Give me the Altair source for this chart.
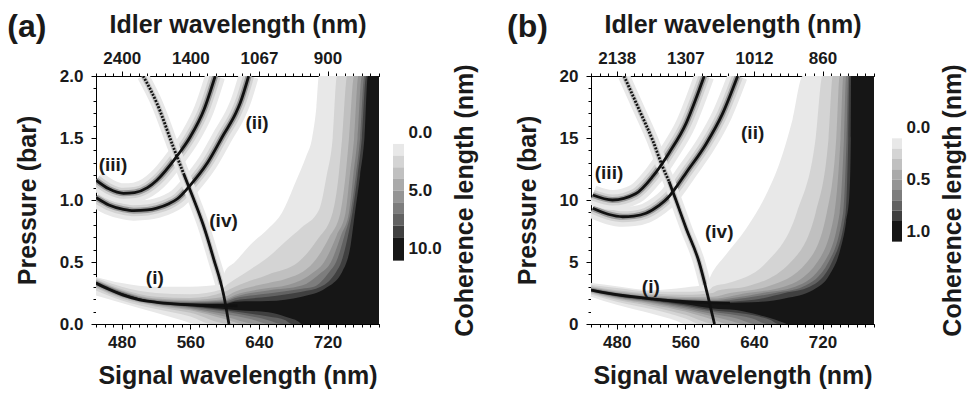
import altair as alt
import pandas as pd

FONT = "Liberation Sans"
INK = "#1a1a1a"
LEVEL_COLORS = ["#e8e8e8", "#d4d4d4", "#c0c0c0", "#aaaaaa", "#959595",
                "#7d7d7d", "#626262", "#404040", "#161616"]

XMIN, XMAX = 450, 780
SIGNAL_TICKS = [480, 560, 640, 720]
IDLER_A = ["2400", "1400", "1067", "900"]
IDLER_B = ["2138", "1307", "1012", "860"]
LABEL_TEXT = ["(i)", "(ii)", "(iii)", "(iv)"]

# ---------------- panel (a) ----------------
A_I_X = [450, 465, 481, 501, 521, 560, 600, 615]
A_I_Y = [0.33, 0.28, 0.235, 0.195, 0.175, 0.155, 0.148, 0.146]
A_II_X = [450, 465, 482, 494, 510, 521, 535, 545, 560, 580, 599, 613, 618, 628]
A_II_Y = [1.02, 0.96, 0.925, 0.914, 0.92, 0.935, 0.97, 1.01, 1.12, 1.30, 1.53, 1.70, 1.78, 2.0]
A_III_X = [450, 465, 482, 495, 510, 521, 544, 560, 576, 589]
A_III_Y = [1.16, 1.09, 1.054, 1.06, 1.10, 1.16, 1.35, 1.51, 1.73, 2.0]
A_IVD_X = [505, 521, 540, 552]
A_IVD_Y = [2.0, 1.78, 1.43, 1.215]
A_IV_X = [552, 562, 575, 587, 599, 605]
A_IV_Y = [1.215, 1.04, 0.80, 0.53, 0.23, 0.0]
A_LAB_X = [518.6, 637.8, 469.8, 598.7]
A_LAB_Y = [0.37, 1.62, 1.28, 0.83]

A_HI_X = [
    [450, 480, 520, 560, 597, 600, 612, 630, 651, 667, 683, 695, 702, 707, 710, 780],
    [450, 480, 520, 560, 597, 600, 612, 630, 651, 670, 690, 710, 719, 726, 731, 780],
    [450, 480, 520, 560, 600, 612, 651, 686, 708, 726, 733, 737, 743, 780],
    [450, 480, 520, 560, 600, 612, 651, 670, 704, 722, 735, 741, 745, 751, 780],
    [450, 480, 520, 560, 600, 612, 651, 671, 700, 716, 731, 741, 746, 751, 756, 780],
    [450, 480, 520, 560, 600, 612, 651, 690, 710, 724, 736, 745, 750, 755, 760, 780],
    [450, 480, 520, 560, 600, 612, 651, 690, 704, 722, 730, 740, 747, 753, 758, 763, 780],
    [450, 480, 520, 560, 600, 612, 651, 690, 712, 730, 736, 745, 749, 755, 760, 765, 780],
    [450, 480, 520, 560, 600, 612, 651, 690, 718, 737, 747, 752, 758, 763, 767, 780],
]
A_HI_Y = [
    [0.38, 0.33, 0.30, 0.30, 0.32, 0.42, 0.50, 0.64, 0.77, 0.90, 1.15, 1.35, 1.50, 1.75, 2.0, 2.0],
    [0.37, 0.30, 0.25, 0.24, 0.28, 0.30, 0.36, 0.44, 0.54, 0.66, 0.78, 0.92, 1.20, 1.50, 2.0, 2.0],
    [0.36, 0.28, 0.22, 0.21, 0.26, 0.30, 0.40, 0.50, 0.68, 0.90, 1.20, 1.50, 2.0, 2.0],
    [0.355, 0.27, 0.205, 0.195, 0.22, 0.26, 0.33, 0.36, 0.50, 0.70, 0.90, 1.20, 1.50, 2.0, 2.0],
    [0.35, 0.265, 0.198, 0.185, 0.20, 0.234, 0.29, 0.31, 0.40, 0.50, 0.72, 0.90, 1.20, 1.50, 2.0, 2.0],
    [0.345, 0.26, 0.19, 0.178, 0.19, 0.22, 0.27, 0.31, 0.40, 0.50, 0.72, 0.90, 1.20, 1.50, 2.0, 2.0],
    [0.34, 0.255, 0.185, 0.172, 0.18, 0.207, 0.245, 0.285, 0.30, 0.42, 0.50, 0.72, 0.90, 1.20, 1.50, 2.0, 2.0],
    [0.337, 0.25, 0.182, 0.167, 0.17, 0.19, 0.22, 0.26, 0.30, 0.42, 0.50, 0.75, 0.90, 1.20, 1.50, 2.0, 2.0],
    [0.335, 0.247, 0.18, 0.163, 0.16, 0.18, 0.185, 0.22, 0.29, 0.42, 0.64, 0.90, 1.20, 1.50, 2.0, 2.0],
]
A_LO_X = [
    [450, 480, 520, 550, 565, 780],
    [450, 480, 520, 560, 585, 780],
    [450, 480, 520, 560, 605, 780],
    [450, 480, 520, 560, 600, 622, 780],
    [450, 480, 520, 560, 600, 638, 780],
    [450, 480, 520, 560, 600, 630, 652, 780],
    [450, 480, 520, 560, 600, 651, 666, 780],
    [450, 480, 520, 560, 600, 651, 671, 678, 780],
    [450, 480, 520, 560, 600, 612, 651, 671, 686, 690, 780],
]
A_LO_Y = [
    [0.23, 0.17, 0.09, 0.03, 0.0, 0.0],
    [0.27, 0.19, 0.12, 0.06, 0.0, 0.0],
    [0.29, 0.205, 0.14, 0.09, 0.0, 0.0],
    [0.30, 0.215, 0.15, 0.11, 0.04, 0.0, 0.0],
    [0.31, 0.22, 0.158, 0.12, 0.06, 0.0, 0.0],
    [0.315, 0.225, 0.163, 0.13, 0.08, 0.04, 0.0, 0.0],
    [0.32, 0.228, 0.167, 0.138, 0.10, 0.03, 0.0, 0.0],
    [0.322, 0.23, 0.17, 0.143, 0.11, 0.06, 0.03, 0.0, 0.0],
    [0.325, 0.232, 0.172, 0.148, 0.12, 0.113, 0.094, 0.059, 0.02, 0.0, 0.0],
]

# ---------------- panel (b) ----------------
B_I_X = [450, 482, 522, 561, 588, 600, 612]
B_I_Y = [2.74, 2.34, 2.02, 1.80, 1.72, 1.70, 1.69]
B_II_X = [452, 470, 487, 500, 514, 529, 540, 550, 561, 584, 603, 621]
B_II_Y = [9.33, 8.85, 8.65, 8.7, 8.93, 9.55, 10.2, 11.1, 12.2, 14.5, 16.9, 20.0]
B_III_X = [452, 475, 502, 522, 541, 561, 572, 582]
B_III_Y = [10.4, 10.0, 10.5, 11.9, 13.8, 16.2, 18.1, 20.0]
B_IVD_X = [488.5, 506, 522, 533.4, 541]
B_IVD_Y = [20.0, 17.3, 14.8, 12.7, 11.5]
B_IV_X = [541, 549, 561, 576, 586, 594]
B_IV_Y = [11.5, 10.0, 7.7, 5.0, 2.34, 0.0]
B_LAB_X = [519.7, 638.5, 471.0, 599.5]
B_LAB_Y = [3.0, 15.4, 12.15, 7.44]

B_HI_X = [
    [450, 480, 520, 560, 585, 590, 607, 631, 654, 670, 685, 697, 780],
    [450, 480, 520, 560, 588, 592, 610, 655, 690, 712, 720, 780],
    [450, 480, 520, 560, 592, 598, 630, 683, 712, 727, 732, 780],
    [450, 480, 520, 560, 592, 612, 655, 702, 725, 736, 740, 780],
    [450, 480, 520, 560, 592, 632, 675, 714, 734, 741, 744.3, 780],
    [450, 480, 520, 560, 592, 615, 650, 688, 722, 740, 745, 747.5, 780],
    [450, 480, 520, 560, 592, 630, 665, 697, 727, 744, 748, 750, 780],
    [450, 480, 520, 560, 592, 640, 676, 705, 731, 747, 750, 751.3, 780],
    [450, 480, 520, 560, 592, 638, 677, 709, 728, 740, 747.5, 751.3, 753, 753.3, 780],
]
B_HI_Y = [
    [3.3, 3.05, 2.74, 2.95, 3.2, 3.95, 5.56, 7.7, 10.4, 13.0, 16.5, 20, 20],
    [3.15, 2.9, 2.62, 2.6, 2.75, 3.0, 3.3, 5.0, 9.0, 15.0, 20, 20],
    [3.05, 2.72, 2.45, 2.35, 2.5, 2.7, 3.0, 5.0, 9.0, 15.0, 20, 20],
    [2.97, 2.62, 2.33, 2.18, 2.2, 2.5, 3.0, 5.0, 9.0, 15.0, 20, 20],
    [2.92, 2.55, 2.24, 2.07, 2.05, 2.5, 3.0, 5.0, 9.0, 15.0, 20, 20],
    [2.88, 2.5, 2.18, 1.99, 1.93, 2.1, 2.5, 3.0, 5.0, 9.0, 15.0, 20, 20],
    [2.85, 2.46, 2.13, 1.93, 1.84, 2.1, 2.5, 3.0, 5.0, 9.0, 15.0, 20, 20],
    [2.82, 2.43, 2.10, 1.88, 1.76, 1.95, 2.5, 3.0, 5.0, 9.0, 15.0, 20, 20],
    [2.8, 2.40, 2.07, 1.84, 1.70, 1.75, 2.07, 2.74, 3.95, 5.83, 8.25, 10.4, 15, 20, 20],
]
B_LO_X = [
    [450, 480, 520, 550, 560, 780],
    [450, 480, 520, 560, 578, 780],
    [450, 480, 520, 560, 595, 780],
    [450, 480, 520, 560, 592, 612, 780],
    [450, 480, 520, 560, 592, 610, 628, 780],
    [450, 480, 520, 560, 592, 620, 642, 780],
    [450, 480, 520, 560, 592, 620, 640, 655, 780],
    [450, 480, 520, 560, 592, 620, 646, 660, 668, 780],
    [450, 480, 520, 560, 592, 619, 646, 666, 677, 679, 780],
]
B_LO_Y = [
    [2.2, 1.55, 0.85, 0.25, 0.0, 0.0],
    [2.38, 1.8, 1.2, 0.45, 0.0, 0.0],
    [2.48, 1.95, 1.42, 0.75, 0.0, 0.0],
    [2.55, 2.05, 1.58, 1.0, 0.35, 0.0, 0.0],
    [2.60, 2.12, 1.7, 1.15, 0.6, 0.3, 0.0, 0.0],
    [2.64, 2.18, 1.78, 1.28, 0.8, 0.45, 0.0, 0.0],
    [2.66, 2.22, 1.85, 1.4, 0.98, 0.7, 0.4, 0.0, 0.0],
    [2.68, 2.25, 1.9, 1.5, 1.1, 0.9, 0.6, 0.3, 0.0, 0.0],
    [2.70, 2.28, 1.96, 1.60, 1.26, 1.13, 0.73, 0.32, 0.05, 0.0, 0.0],
]

# ---------------- colour bars ----------------
CB_A_LO = [1, 2, 3, 4, 5, 6, 7, 8, 9]
CB_A_HI = [2, 3, 4, 5, 6, 7, 8, 9, 11]
CB_A_LABELS = [0, 5, 10]
CB_B_LO = [0.1, 0.2, 0.3, 0.4, 0.5, 0.6, 0.7, 0.8, 0.9]
CB_B_HI = [0.2, 0.3, 0.4, 0.5, 0.6, 0.7, 0.8, 0.9, 1.1]
CB_B_LABELS = [0, 0.5, 1.0]

PW, PH = 283, 248
TITLE_SIZE = 25


def xy(xs, ys):
    return pd.DataFrame({"x": xs, "y": ys})


def build_panel(letter, ymax, ymajor, yfmt, yminor, idler, hi_x, hi_y, lo_x, lo_y,
                cx_i, cy_i, cx_ii, cy_ii, cx_iii, cy_iii, cx_ivd, cy_ivd, cx_iv, cy_iv,
                lab_x, lab_y):
    xs = alt.Scale(domain=[XMIN, XMAX], nice=False, zero=False)
    ys = alt.Scale(domain=[0, ymax], nice=False, zero=False)

    def enc(ch):
        return ch.encode(x=alt.X("x:Q", scale=xs, axis=None),
                         y=alt.Y("y:Q", scale=ys, axis=None))

    layers = []
    # halos (only visible where nothing else is painted)
    for cx, cy in [(cx_ii, cy_ii), (cx_iii, cy_iii)]:
        for w, c in [(20, "#e8e8e8"), (11, "#d2d2d2"), (6, "#9a9a9a")]:
            layers.append(enc(alt.Chart(xy(cx, cy)).mark_line(
                color=c, strokeWidth=w, interpolate="monotone", clip=True)))
    for w, c in [(12, "#e8e8e8"), (5, "#c4c4c4")]:
        layers.append(enc(alt.Chart(xy(cx_ivd + cx_iv[1:], cy_ivd + cy_iv[1:])).mark_line(
            color=c, strokeWidth=w, interpolate="monotone", clip=True)))
    # contour bands: upper boundaries
    for k in range(9):
        layers.append(alt.Chart(xy(hi_x[k], hi_y[k])).mark_area(
            color=LEVEL_COLORS[k], interpolate="monotone", clip=True).encode(
            x=alt.X("x:Q", scale=xs, axis=None),
            y=alt.Y("y:Q", scale=ys, axis=None),
            y2=alt.datum(0)))
    # contour bands: lower boundaries (below curve i)
    for k in range(8, -1, -1):
        col = LEVEL_COLORS[k - 1] if k > 0 else "#ffffff"
        layers.append(alt.Chart(xy(lo_x[k], lo_y[k])).mark_area(
            color=col, interpolate="monotone", clip=True).encode(
            x=alt.X("x:Q", scale=xs, axis=None),
            y=alt.Y("y:Q", scale=ys, axis=None),
            y2=alt.datum(0)))
    # black phase-matching curves
    for cx, cy in [(cx_i, cy_i), (cx_ii, cy_ii), (cx_iii, cy_iii), (cx_iv, cy_iv)]:
        layers.append(enc(alt.Chart(xy(cx, cy)).mark_line(
            color="#111111", strokeWidth=2.8, interpolate="monotone", clip=True)))
    layers.append(enc(alt.Chart(xy(cx_ivd, cy_ivd)).mark_line(
        color="#111111", strokeWidth=2.8, strokeDash=[2, 1.4],
        interpolate="monotone", clip=True)))
    # labels
    lab = pd.DataFrame({"x": lab_x, "y": lab_y, "t": LABEL_TEXT})
    layers.append(alt.Chart(lab).mark_text(
        font=FONT, fontSize=19, fontWeight="bold", color=INK,
        align="center", baseline="middle").encode(
        x=alt.X("x:Q", scale=xs, axis=None),
        y=alt.Y("y:Q", scale=ys, axis=None), text="t:N"))

    # axes carriers
    frame = xy([XMIN, XMAX], [0, ymax])
    minor_x = list(range(450, 781, 10))
    expr = " : ".join(f"datum.value == {v} ? '{l}'" for v, l in zip(SIGNAL_TICKS, idler)) + " : ''"
    layers.append(alt.Chart(frame).mark_point(opacity=0).encode(
        x=alt.X("x:Q", scale=xs, axis=alt.Axis(
            orient="bottom", values=SIGNAL_TICKS, format="d", tickSize=5,
            labelPadding=5, title="Signal wavelength (nm)", titlePadding=13)),
        y=alt.Y("y:Q", scale=ys, axis=alt.Axis(
            orient="left", values=ymajor, format=yfmt, tickSize=5,
            labelPadding=8, title="Pressure (bar)", titlePadding=19))))
    layers.append(alt.Chart(frame).mark_point(opacity=0).encode(
        x=alt.X("x:Q", scale=xs, axis=alt.Axis(
            orient="bottom", values=minor_x, labels=False, tickSize=3, title=None)),
        y=alt.Y("y:Q", scale=ys, axis=alt.Axis(
            orient="left", values=yminor, labels=False, tickSize=3, title=None))))
    layers.append(alt.Chart(frame).mark_point(opacity=0).encode(
        x=alt.X("x:Q", scale=xs, axis=alt.Axis(
            orient="top", values=SIGNAL_TICKS, labelExpr=expr, tickSize=5,
            labelPadding=4, title="Idler wavelength (nm)", titlePadding=12)),
        y=alt.Y("y:Q", scale=ys, axis=None)))
    layers.append(alt.Chart(frame).mark_point(opacity=0).encode(
        x=alt.X("x:Q", scale=xs, axis=alt.Axis(
            orient="top", values=minor_x, labels=False, tickSize=3, title=None)),
        y=alt.Y("y:Q", scale=ys, axis=None)))

    return alt.layer(*layers).resolve_axis(x="independent", y="independent").properties(
        width=PW, height=PH,
        title=alt.TitleParams(letter, anchor="start", frame="bounds", fontSize=32,
                              font=FONT, fontWeight="bold", color=INK, dx=-8, dy=36))


def build_cbar(lo, hi, labels, fmt, dom, w):
    df = pd.DataFrame({"lo": lo, "hi": hi, "c": LEVEL_COLORS})
    return alt.Chart(df).mark_rect().encode(
        y=alt.Y("lo:Q", scale=alt.Scale(domain=dom, reverse=True, nice=False, zero=False),
                axis=alt.Axis(orient="right", values=labels, format=fmt, domain=False,
                              ticks=False, labelPadding=4, title="Coherence length (nm)",
                              titleAngle=270, titleBaseline="top", titlePadding=11)),
        y2="hi:Q",
        color=alt.Color("c:N", scale=None),
    ).properties(width=w, height=PH)


panel_a = build_panel("(a)", 2.0, [0, 0.5, 1.0, 1.5, 2.0], ".1f",
                      [round(0.1 * i, 1) for i in range(21)], IDLER_A,
                      A_HI_X, A_HI_Y, A_LO_X, A_LO_Y,
                      A_I_X, A_I_Y, A_II_X, A_II_Y, A_III_X, A_III_Y,
                      A_IVD_X, A_IVD_Y, A_IV_X, A_IV_Y, A_LAB_X, A_LAB_Y)
panel_b = build_panel("(b)", 20, [0, 5, 10, 15, 20], "d",
                      list(range(21)), IDLER_B,
                      B_HI_X, B_HI_Y, B_LO_X, B_LO_Y,
                      B_I_X, B_I_Y, B_II_X, B_II_Y, B_III_X, B_III_Y,
                      B_IVD_X, B_IVD_Y, B_IV_X, B_IV_Y, B_LAB_X, B_LAB_Y)
cbar_a = build_cbar(CB_A_LO, CB_A_HI, CB_A_LABELS, ".1f", [-4.82, 16.43], 11)
cbar_b = build_cbar(CB_B_LO, CB_B_HI, CB_B_LABELS, ".1f", [-0.503, 1.897], 10)

chart = alt.hconcat(
    alt.hconcat(panel_a, cbar_a, spacing=14, bounds="flush"),
    alt.hconcat(panel_b, cbar_b, spacing=18, bounds="flush"),
    spacing=495, bounds="flush",
).properties(
    padding={"left": 7, "top": 11, "right": 5, "bottom": 5}
).configure_axis(
    labelFont=FONT, labelFontSize=17, labelFontWeight="bold", labelColor=INK,
    titleFont=FONT, titleFontSize=TITLE_SIZE, titleFontWeight="bold", titleColor=INK,
    domainColor="#000000", tickColor="#000000", domainWidth=1, tickWidth=1, grid=False,
).configure_view(stroke=None)

chart.save("out.html", embed_options={"renderer": "svg", "actions": False})
